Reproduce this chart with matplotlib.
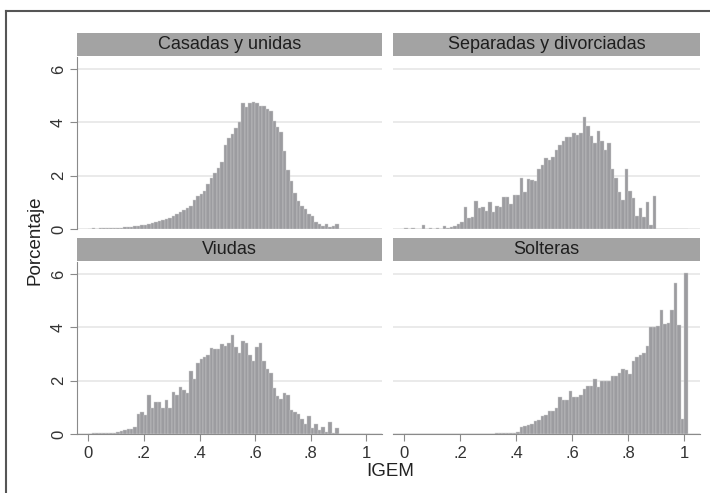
import numpy as np
import matplotlib
matplotlib.use('Agg')
import matplotlib.pyplot as plt
from matplotlib.lines import Line2D
from matplotlib.patches import Rectangle

# histogram bins (width 1/80, left edges)
bin_width = 1 / 80
n_bins = 81

titles = ['Casadas y unidas', 'Separadas y divorciadas', 'Viudas', 'Solteras']

casadas = [0.01, 0.02, 0.01, 0.03, 0.02, 0.02, 0.04, 0.03, 0.05, 0.04,
	0.06, 0.07, 0.08, 0.10, 0.12, 0.14, 0.15, 0.20, 0.22, 0.25,
	0.30, 0.33, 0.38, 0.42, 0.50, 0.55, 0.62, 0.70, 0.78, 0.88,
	1.10, 1.25, 1.31, 1.44, 1.69, 1.90, 2.10, 2.27, 2.52, 3.15,
	3.40, 3.56, 3.77, 4.00, 4.72, 4.56, 4.72, 4.75, 4.72, 4.62,
	4.60, 4.50, 4.44, 4.06, 3.81, 3.65, 2.94, 2.20, 1.80, 1.35,
	1.06, 0.87, 0.75, 0.56, 0.48, 0.28, 0.19, 0.13, 0.19, 0.06,
	0.13, 0.19, 0, 0, 0, 0, 0, 0, 0, 0, 0]

separadas = [0.05, 0.0, 0.05, 0.0, 0.0, 0.14, 0.0, 0.02, 0.0, 0.03,
	0.0, 0.10, 0.04, 0.07, 0.12, 0.20, 0.25, 0.84, 0.41, 0.46,
	1.04, 0.79, 0.84, 0.69, 1.00, 0.62, 0.87, 0.84, 1.21, 1.19,
	0.94, 1.29, 1.29, 1.91, 1.37, 1.87, 1.84, 1.79, 2.25, 2.41,
	2.66, 2.59, 2.71, 2.96, 3.15, 3.29, 3.46, 3.46, 3.59, 3.52,
	3.59, 4.21, 3.87, 3.50, 3.21, 3.69, 3.29, 2.96, 3.21, 2.25,
	1.91, 1.37, 1.09, 2.25, 1.41, 1.16, 0.50, 0.79, 0.44, 1.00,
	0.16, 1.25, 0, 0, 0, 0, 0, 0, 0, 0, 0]

viudas = [0.0, 0.02, 0.03, 0.02, 0.03, 0.03, 0.02, 0.05, 0.08, 0.12,
	0.15, 0.18, 0.20, 0.25, 0.75, 0.84, 0.71, 1.46, 0.96, 1.21,
	1.21, 0.96, 1.27, 0.96, 1.59, 1.46, 1.77, 1.65, 1.55, 2.37,
	2.05, 2.65, 2.80, 2.90, 2.96, 3.21, 3.17, 3.20, 3.37, 3.30,
	3.40, 3.71, 3.27, 3.02, 3.50, 3.42, 2.96, 2.75, 3.25, 3.40,
	2.75, 2.42, 2.30, 1.71, 1.42, 1.30, 1.55, 1.46, 0.90, 0.84,
	0.75, 0.55, 0.37, 0.67, 0.21, 0.37, 0.15, 0.27, 0.09, 0.46,
	0.05, 0.21, 0, 0, 0, 0, 0, 0, 0, 0, 0]

solteras = [0, 0, 0, 0, 0, 0, 0, 0, 0, 0,
	0, 0, 0, 0, 0, 0, 0, 0, 0, 0,
	0, 0, 0, 0, 0, 0.01, 0.02, 0.02, 0.03, 0.02,
	0.04, 0.05, 0.06, 0.27, 0.30, 0.35, 0.38, 0.47, 0.52, 0.66,
	0.70, 0.85, 0.85, 0.97, 1.37, 1.29, 1.29, 1.60, 1.37, 1.37,
	1.45, 1.70, 1.80, 1.80, 2.07, 1.75, 2.00, 2.00, 2.00, 2.16,
	2.16, 2.30, 2.45, 2.40, 2.25, 2.75, 2.90, 2.97, 3.04, 3.30,
	4.00, 4.00, 4.05, 4.66, 4.12, 4.16, 4.66, 5.66, 4.10, 0.57,
	6.04]

y_ticks = [0, 2, 4, 6]
x_ticks = [0, 0.2, 0.4, 0.6, 0.8, 1.0]
x_labels = ['0', '.2', '.4', '.6', '.8', '1']

W, H = 710, 493


def box(x0, y0, x1, y1):
	# pixel box (top-left origin) -> figure fraction
	return [x0 / W, 1 - y1 / H, (x1 - x0) / W, (y1 - y0) / H]


def main():
	plt.rcParams['font.family'] = ['Liberation Sans', 'DejaVu Sans']
	fig = plt.figure(figsize=(W / 100, H / 100), dpi=100)

	edges = np.arange(n_bins) * bin_width
	data = [casadas, separadas, viudas, solteras]

	# panel positions in pixels
	panels = [(77, 57, 382, 229), (393, 57, 700, 229),
		(77, 262, 382, 434), (393, 262, 700, 434)]
	strips = [(77, 33, 382, 56), (393, 33, 700, 56),
		(77, 238, 382, 261), (393, 238, 700, 261)]

	for i in range(4):
		ax = fig.add_axes(box(*panels[i]))
		ax.bar(edges, data[i], width=bin_width, align='edge',
			color='#9c9ca0', edgecolor='#d0d0d0', linewidth=0.3, zorder=3)
		ax.set_xlim(-0.0405, 1.056)
		ax.set_ylim(0, 6.45)
		ax.set_yticks(y_ticks)
		ax.yaxis.grid(True, color='#e6e6e6', linewidth=1.2, zorder=0)
		ax.set_axisbelow(True)
		for s in ['top', 'right', 'left', 'bottom']:
			ax.spines[s].set_visible(False)

		# y axis only on left column
		if i % 2 == 0:
			ax.spines['left'].set_visible(True)
			ax.spines['left'].set_color('#8a8a8a')
			ax.tick_params(axis='y', length=5, color='#8a8a8a', labelsize=12,
				labelcolor='#333333', pad=3)
			for lab in ax.get_yticklabels():
				lab.set_rotation(90)
				lab.set_va('center')
		else:
			ax.tick_params(axis='y', length=0, labelleft=False)

		# x axis only on bottom row
		if i >= 2:
			ax.spines['bottom'].set_visible(True)
			ax.spines['bottom'].set_color('#8a8a8a')
			ax.set_xticks(x_ticks)
			ax.set_xticklabels(x_labels)
			ax.tick_params(axis='x', length=5, color='#8a8a8a', labelsize=12,
				labelcolor='#333333', pad=4)
		else:
			ax.set_xticks([])

		# strip header
		sax = fig.add_axes(box(*strips[i]))
		sax.add_patch(Rectangle((0, 0), 1, 1, facecolor='#a3a3a3', edgecolor='none'))
		sax.text(0.5, 0.5, titles[i], ha='center', va='center', fontsize=13, color='#1e1e1e')
		sax.set_xlim(0, 1)
		sax.set_ylim(0, 1)
		sax.axis('off')

	fig.text(35 / W, 1 - 240 / H, 'Porcentaje', rotation=90, ha='center', va='center',
		fontsize=13.5, color='#222222')
	fig.text(390 / W, 1 - 472 / H, 'IGEM', ha='center', va='center',
		fontsize=13.5, color='#222222')

	# outer frame (left and top edges)
	fig.add_artist(Line2D([6 / W, 6 / W], [0, 1 - 11 / H], color='#555555', linewidth=1.5))
	fig.add_artist(Line2D([6 / W, 1], [1 - 11 / H, 1 - 11 / H], color='#555555', linewidth=1.5))

	fig.savefig('out.png', dpi=100)


if __name__ == '__main__':
	main()
